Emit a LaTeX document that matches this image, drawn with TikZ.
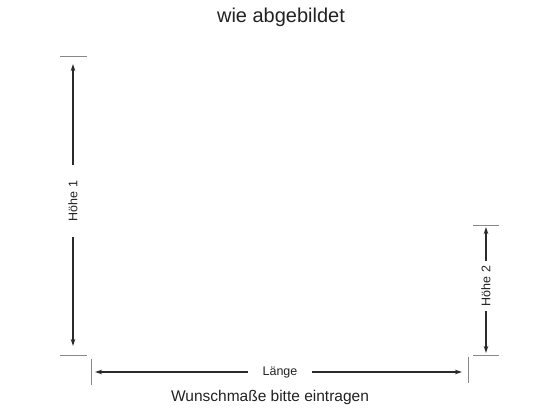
\documentclass[tikz,border=0pt]{standalone}
\usepackage{fontspec}
\setmainfont{Liberation Sans}
\usetikzlibrary{arrows.meta}
\definecolor{dimline}{HTML}{2A2A2A}
\definecolor{tickgray}{HTML}{888888}
\definecolor{txt}{HTML}{222222}
\begin{document}
\begin{tikzpicture}[x=1pt,y=-1pt,
  dimarrow/.style={draw=dimline,line width=1.1pt,{Stealth[length=7pt,width=4.5pt]}-{Stealth[length=7pt,width=4.5pt]}},
  tickline/.style={draw=tickgray,line width=0.9pt},
  dimlabel/.style={fill=white,text=txt,font=\fontsize{12.5}{14}\selectfont,inner sep=0pt,minimum width=0pt},
  ]
\useasboundingbox (0,0) rectangle (560,420);
\node[text=txt,font=\fontsize{20}{24}\selectfont] (title) at (281,17) {wie abgebildet};
\node[text=txt,font=\fontsize{15.5}{18}\selectfont] (note) at (270,397) {Wunschmaße bitte eintragen};

% left: Höhe 1
\coordinate (h1t) at (73,64);
\coordinate (h1b) at (73,346);
\draw[tickline] (60,56) -- (87,56);
\draw[tickline] (60,355) -- (87,355);
\draw[dimarrow] (h1t) -- (h1b);
\node[dimlabel,rotate=90,minimum width=72pt,minimum height=10pt] (h1) at (73,201) {Höhe 1};

% bottom: Länge
\coordinate (ll) at (95,372);
\coordinate (lr) at (462,372);
\draw[tickline] (91,359) -- (91,385);
\draw[tickline] (468,357) -- (468,383);
\draw[dimarrow] (ll) -- (lr);
\node[dimlabel,minimum width=64pt,minimum height=10pt] (len) at (280,372) {Länge};

% right: Höhe 2
\coordinate (h2t) at (486,227);
\coordinate (h2b) at (486,353);
\draw[tickline] (473,225) -- (499,225);
\draw[tickline] (473,355) -- (499,355);
\draw[dimarrow] (h2t) -- (h2b);
\node[dimlabel,rotate=90,minimum width=50pt,minimum height=10pt] (h2) at (486,286) {Höhe 2};
\end{tikzpicture}
\end{document}
